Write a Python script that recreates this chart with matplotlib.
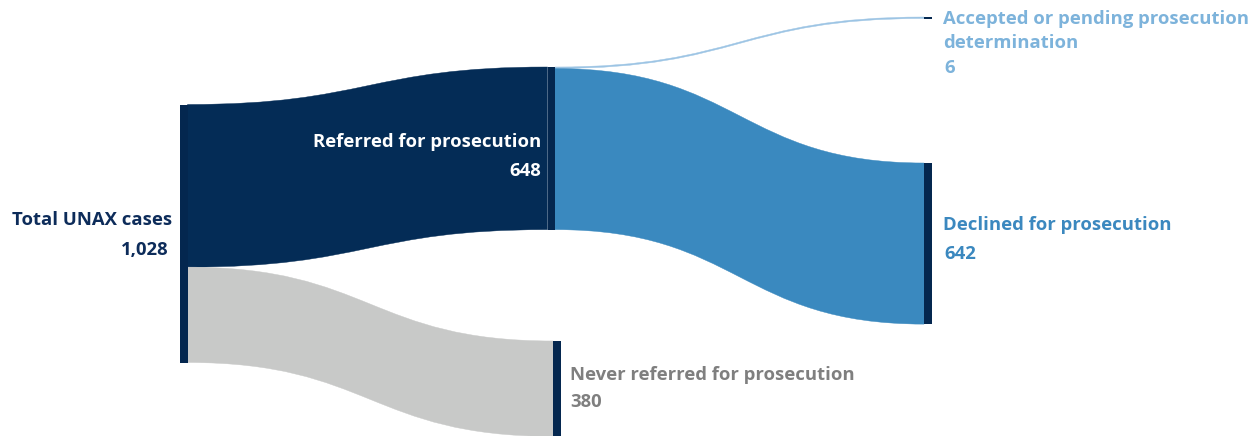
import matplotlib.pyplot as plt
from matplotlib.path import Path
from matplotlib.patches import PathPatch, Rectangle

plt.rcParams['font.family'] = ['Open Sans', 'DejaVu Sans']

# nodes of the sankey
node_names = ["Total UNAX cases", "Referred for prosecution", "Never referred for prosecution",
              "Accepted or pending prosecution\ndetermination", "Declined for prosecution"]
node_values = [1028, 648, 380, 6, 642]
node_labels = ["1,028", "648", "380", "6", "642"]

# flows (source -> target)
flow_src = [0, 0, 1, 1]
flow_dst = [1, 2, 3, 4]
flow_values = [648, 380, 6, 642]

# layout (pixels)
k = 258 / 1028  # px per case
bar_w = 7.5
node_x = [180, 547.5, 553, 924, 924]
node_top = [104.5, 67, 341, 17, 163]
node_color = "#04274f"
flow_colors = ["#042c56", "#c8c9c8", "#9cc4e4", "#3a89bf"]
text_colors = ["#0d2c5a", "white", "#7f7f7f", "#7db3db", "#3b88bf"]

fig = plt.figure(figsize=(12.6, 4.36), dpi=100)
ax = fig.add_axes([0, 0, 1, 1])
ax.set_xlim(0, 1260)
ax.set_ylim(436, 0)
ax.axis("off")

src_off = [0.0] * len(node_values)
dst_off = [0.0] * len(node_values)
for s, d, v, c in zip(flow_src, flow_dst, flow_values, flow_colors):
    x0 = node_x[s] + bar_w
    x1 = node_x[d]
    y0t = node_top[s] + src_off[s] * k
    y0b = y0t + v * k
    y1t = node_top[d] + dst_off[d] * k
    y1b = y1t + v * k
    src_off[s] += v
    dst_off[d] += v
    xm = (x0 + x1) / 2
    verts = [(x0, y0t), (xm, y0t), (xm, y1t), (x1, y1t),
             (x1, y1b), (xm, y1b), (xm, y0b), (x0, y0b), (x0, y0t)]
    codes = [Path.MOVETO, Path.CURVE4, Path.CURVE4, Path.CURVE4,
             Path.LINETO, Path.CURVE4, Path.CURVE4, Path.CURVE4, Path.CLOSEPOLY]
    ax.add_patch(PathPatch(Path(verts, codes), facecolor=c, edgecolor=c, lw=0.3))

for i, v in enumerate(node_values):
    ax.add_patch(Rectangle((node_x[i], node_top[i]), bar_w, max(v * k, 1.5),
                           facecolor=node_color, edgecolor="none"))

fs = 13.3
# left node label
ax.text(172, 220, node_names[0], ha="right", va="center", fontsize=fs,
        fontweight="bold", color=text_colors[0])
ax.text(169, 250, node_labels[0], ha="right", va="center", fontsize=fs,
        fontweight="bold", color=text_colors[0])
# referred (inside the flow)
ax.text(541, 142, node_names[1], ha="right", va="center", fontsize=fs,
        fontweight="bold", color=text_colors[1])
ax.text(541, 171, node_labels[1], ha="right", va="center", fontsize=fs,
        fontweight="bold", color=text_colors[1])
# never referred
ax.text(570, 375, node_names[2], ha="left", va="center", fontsize=fs,
        fontweight="bold", color=text_colors[2])
ax.text(570, 402, node_labels[2], ha="left", va="center", fontsize=fs,
        fontweight="bold", color=text_colors[2])
# accepted
ax.text(943, 31, node_names[3], ha="left", va="center", fontsize=fs,
        fontweight="bold", color=text_colors[3], linespacing=1.36)
ax.text(944, 68, node_labels[3], ha="left", va="center", fontsize=fs,
        fontweight="bold", color=text_colors[3])
# declined
ax.text(943, 225, node_names[4], ha="left", va="center", fontsize=fs,
        fontweight="bold", color=text_colors[4])
ax.text(944, 254, node_labels[4], ha="left", va="center", fontsize=fs,
        fontweight="bold", color=text_colors[4])

fig.savefig("out.png", dpi=100)
